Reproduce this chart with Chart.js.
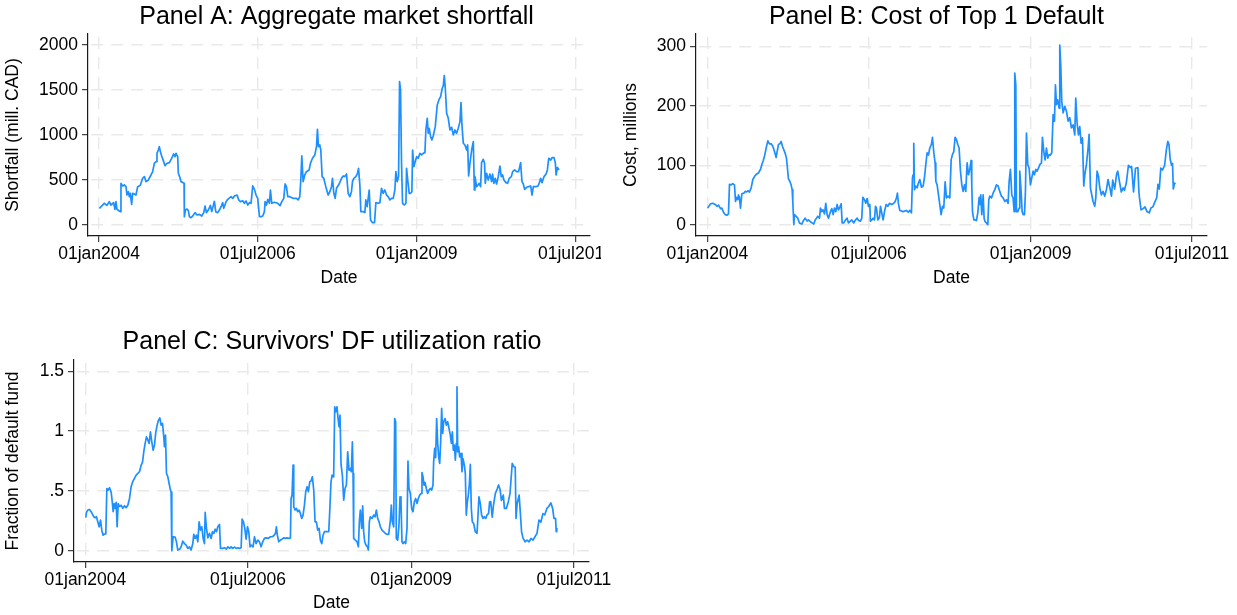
<!DOCTYPE html>
<html>
<head>
<meta charset="utf-8">
<title>Shortfall, top-1 default cost and default fund utilization</title>
<script src="https://cdn.jsdelivr.net/npm/chart.js@4/dist/chart.umd.min.js"></script>
<style>
  html, body { margin: 0; padding: 0; background: #ffffff; overflow: hidden; width: 1237px; height: 615px; }
  canvas { position: absolute; display: block; }
</style>
</head>
<body>
<canvas id="panelA" width="601" height="300" style="left:0px;top:0px;width:601px;height:300px"></canvas>
<canvas id="panelB" width="619" height="300" style="left:618px;top:0px;width:619px;height:300px"></canvas>
<canvas id="panelC" width="618" height="305" style="left:0px;top:310px;width:618px;height:305px"></canvas>
<script>
// ---- Date axis (decimal years) ----
const xTickYears  = [2004.0, 2006.496, 2009.0, 2011.496];
const xTickLabels = ['01jan2004', '01jul2006', '01jan2009', '01jul2011'];

// ---- Panel A: aggregate market shortfall (mill. CAD) ----
const shortfallDates = [
  2004.005, 2004.081, 2004.123, 2004.160, 2004.186, 2004.228, 2004.249, 2004.265, 2004.281, 2004.318,
  2004.334, 2004.344, 2004.370, 2004.397, 2004.423, 2004.439, 2004.460, 2004.475, 2004.491, 2004.512,
  2004.528, 2004.554, 2004.580, 2004.607, 2004.649, 2004.685, 2004.712, 2004.738, 2004.775, 2004.817,
  2004.843, 2004.869, 2004.896, 2004.911, 2004.932, 2004.948, 2004.964, 2004.985, 2005.016, 2005.037,
  2005.069, 2005.106, 2005.142, 2005.174, 2005.195, 2005.211, 2005.237, 2005.247, 2005.268, 2005.289,
  2005.321, 2005.337, 2005.342, 2005.358, 2005.384, 2005.405, 2005.421, 2005.447, 2005.473, 2005.510,
  2005.541, 2005.578, 2005.615, 2005.647, 2005.668, 2005.689, 2005.720, 2005.752, 2005.773, 2005.815,
  2005.836, 2005.867, 2005.894, 2005.920, 2005.946, 2005.962, 2005.999, 2006.025, 2006.077, 2006.104,
  2006.130, 2006.172, 2006.198, 2006.225, 2006.261, 2006.287, 2006.314, 2006.340, 2006.366, 2006.392,
  2006.418, 2006.445, 2006.471, 2006.497, 2006.524, 2006.550, 2006.576, 2006.602, 2006.613, 2006.634,
  2006.655, 2006.681, 2006.697, 2006.718, 2006.760, 2006.813, 2006.849, 2006.876, 2006.907, 2006.928,
  2006.949, 2006.970, 2007.001, 2007.054, 2007.107, 2007.133, 2007.159, 2007.175, 2007.191, 2007.212,
  2007.238, 2007.264, 2007.306, 2007.327, 2007.359, 2007.396, 2007.422, 2007.437, 2007.453, 2007.474,
  2007.490, 2007.511, 2007.537, 2007.569, 2007.606, 2007.632, 2007.658, 2007.674, 2007.695, 2007.716,
  2007.737, 2007.779, 2007.816, 2007.842, 2007.868, 2007.895, 2007.921, 2007.947, 2007.973, 2007.989,
  2008.010, 2008.042, 2008.068, 2008.084, 2008.105, 2008.120, 2008.157, 2008.183, 2008.199, 2008.220,
  2008.236, 2008.252, 2008.273, 2008.304, 2008.336, 2008.357, 2008.394, 2008.420, 2008.446, 2008.472,
  2008.498, 2008.525, 2008.551, 2008.577, 2008.604, 2008.630, 2008.656, 2008.672, 2008.693, 2008.714,
  2008.730, 2008.745, 2008.761, 2008.777, 2008.803, 2008.830, 2008.840, 2008.861, 2008.882, 2008.903,
  2008.924, 2008.935, 2008.956, 2008.977, 2008.998, 2009.024, 2009.050, 2009.076, 2009.102, 2009.129,
  2009.144, 2009.166, 2009.181, 2009.197, 2009.218, 2009.239, 2009.260, 2009.292, 2009.323, 2009.349,
  2009.376, 2009.402, 2009.418, 2009.434, 2009.450, 2009.471, 2009.497, 2009.523, 2009.550, 2009.576,
  2009.602, 2009.628, 2009.654, 2009.681, 2009.697, 2009.712, 2009.733, 2009.759, 2009.786, 2009.802,
  2009.817, 2009.838, 2009.865, 2009.891, 2009.907, 2009.917, 2009.943, 2009.985, 2010.006, 2010.021,
  2010.047, 2010.068, 2010.079, 2010.100, 2010.126, 2010.152, 2010.179, 2010.194, 2010.215, 2010.236,
  2010.257, 2010.284, 2010.310, 2010.331, 2010.352, 2010.373, 2010.405, 2010.431, 2010.457, 2010.489,
  2010.510, 2010.541, 2010.573, 2010.604, 2010.636, 2010.657, 2010.678, 2010.699, 2010.731, 2010.762,
  2010.794, 2010.815, 2010.836, 2010.878, 2010.910, 2010.931, 2010.952, 2010.973, 2011.004, 2011.036,
  2011.057, 2011.078, 2011.110, 2011.131, 2011.162, 2011.183, 2011.194, 2011.215, 2011.240
];
const shortfallValues = [
  182, 238, 215, 256, 219, 245, 171, 256, 171, 152,
  145, 460, 431, 442, 423, 330, 367, 312, 349, 226,
  349, 341, 330, 423, 438, 516, 535, 479, 497, 553,
  590, 683, 702, 794, 831, 869, 813, 765, 702, 657,
  683, 690, 739, 787, 757, 794, 757, 572, 535, 479,
  468, 460, 89, 163, 174, 156, 89, 78, 96, 134,
  108, 115, 96, 134, 208, 134, 163, 215, 145, 260,
  145, 134, 163, 200, 245, 182, 256, 282, 312, 293,
  319, 330, 275, 256, 267, 238, 264, 219, 245, 238,
  431, 393, 330, 293, 89, 89, 96, 145, 256, 219,
  282, 238, 386, 238, 249, 238, 212, 256, 293, 453,
  423, 312, 312, 293, 293, 275, 312, 497, 765, 479,
  553, 590, 609, 683, 739, 776, 869, 1062, 869, 887,
  831, 535, 516, 423, 330, 367, 423, 516, 349, 293,
  405, 453, 516, 542, 535, 564, 349, 312, 367, 479,
  516, 535, 572, 627, 442, 145, 145, 134, 275, 200,
  293, 386, 52, 22, 22, 245, 238, 245, 405, 349,
  386, 330, 312, 275, 293, 293, 386, 590, 479, 535,
  1592, 1500, 683, 238, 219, 238, 627, 479, 349, 349,
  367, 831, 646, 702, 757, 739, 794, 776, 794, 802,
  1054, 1184, 1017, 1073, 980, 943, 987, 1091, 1333, 1388,
  1425, 1518, 1544, 1659, 1518, 1240, 1184, 1054, 1084, 999,
  1054, 1017, 1073, 1147, 1359, 1110, 906, 887, 831, 887,
  542, 683, 831, 924, 386, 535, 423, 460, 423, 690,
  728, 683, 460, 572, 497, 564, 479, 564, 460, 516,
  453, 535, 653, 535, 553, 497, 468, 460, 516, 535,
  590, 609, 590, 590, 690, 479, 453, 393, 416, 423,
  431, 330, 423, 423, 431, 468, 516, 468, 535, 564,
  609, 739, 720, 746, 746, 683, 553, 638, 609
];
const shortfallTicks = [0, 500, 1000, 1500, 2000];
const shortfallTickLabels = ['0', '500', '1000', '1500', '2000'];

// ---- Panel B: cost of the top-1 default (millions) ----
const top1Dates = [
  2004.005, 2004.049, 2004.085, 2004.121, 2004.152, 2004.173, 2004.204, 2004.224, 2004.255, 2004.276,
  2004.307, 2004.327, 2004.343, 2004.369, 2004.394, 2004.420, 2004.436, 2004.451, 2004.472, 2004.482,
  2004.497, 2004.513, 2004.534, 2004.564, 2004.585, 2004.606, 2004.626, 2004.652, 2004.678, 2004.704,
  2004.729, 2004.760, 2004.791, 2004.822, 2004.843, 2004.863, 2004.884, 2004.910, 2004.936, 2004.961,
  2004.987, 2005.013, 2005.039, 2005.064, 2005.080, 2005.101, 2005.121, 2005.142, 2005.162, 2005.183,
  2005.204, 2005.224, 2005.235, 2005.255, 2005.276, 2005.296, 2005.312, 2005.322, 2005.338, 2005.348,
  2005.374, 2005.399, 2005.425, 2005.461, 2005.492, 2005.513, 2005.544, 2005.564, 2005.606, 2005.647,
  2005.668, 2005.688, 2005.709, 2005.735, 2005.750, 2005.771, 2005.791, 2005.812, 2005.832, 2005.853,
  2005.874, 2005.905, 2005.925, 2005.946, 2005.966, 2005.987, 2006.008, 2006.028, 2006.044, 2006.070,
  2006.085, 2006.111, 2006.131, 2006.162, 2006.183, 2006.214, 2006.235, 2006.265, 2006.286, 2006.317,
  2006.338, 2006.369, 2006.389, 2006.405, 2006.431, 2006.451, 2006.472, 2006.492, 2006.513, 2006.523,
  2006.544, 2006.564, 2006.585, 2006.601, 2006.616, 2006.637, 2006.662, 2006.678, 2006.698, 2006.719,
  2006.740, 2006.766, 2006.791, 2006.817, 2006.853, 2006.884, 2006.905, 2006.925, 2006.940, 2006.956,
  2006.977, 2007.028, 2007.080, 2007.106, 2007.131, 2007.157, 2007.173, 2007.183, 2007.193, 2007.204,
  2007.224, 2007.245, 2007.265, 2007.286, 2007.312, 2007.338, 2007.358, 2007.379, 2007.399, 2007.420,
  2007.441, 2007.466, 2007.482, 2007.503, 2007.523, 2007.534, 2007.554, 2007.575, 2007.595, 2007.616,
  2007.637, 2007.657, 2007.678, 2007.699, 2007.724, 2007.750, 2007.771, 2007.791, 2007.812, 2007.832,
  2007.853, 2007.874, 2007.894, 2007.915, 2007.936, 2007.956, 2007.977, 2007.997, 2008.018, 2008.039,
  2008.059, 2008.080, 2008.090, 2008.101, 2008.122, 2008.142, 2008.162, 2008.183, 2008.204, 2008.214,
  2008.229, 2008.245, 2008.266, 2008.281, 2008.296, 2008.317, 2008.338, 2008.353, 2008.369, 2008.395,
  2008.420, 2008.446, 2008.472, 2008.497, 2008.523, 2008.549, 2008.575, 2008.601, 2008.626, 2008.652,
  2008.668, 2008.688, 2008.709, 2008.729, 2008.745, 2008.755, 2008.771, 2008.781, 2008.802, 2008.822,
  2008.832, 2008.853, 2008.869, 2008.884, 2008.905, 2008.920, 2008.936, 2008.956, 2008.977, 2008.997,
  2009.018, 2009.039, 2009.059, 2009.080, 2009.100, 2009.121, 2009.142, 2009.168, 2009.183, 2009.204,
  2009.224, 2009.245, 2009.265, 2009.286, 2009.307, 2009.327, 2009.348, 2009.369, 2009.384, 2009.400,
  2009.420, 2009.441, 2009.451, 2009.466, 2009.482, 2009.503, 2009.528, 2009.554, 2009.580, 2009.606,
  2009.631, 2009.657, 2009.683, 2009.698, 2009.719, 2009.740, 2009.760, 2009.781, 2009.802, 2009.822,
  2009.838, 2009.863, 2009.889, 2009.905, 2009.925, 2009.946, 2009.966, 2009.992, 2010.008, 2010.028,
  2010.049, 2010.070, 2010.095, 2010.121, 2010.147, 2010.173, 2010.198, 2010.214, 2010.230, 2010.250,
  2010.270, 2010.300, 2010.330, 2010.348, 2010.370, 2010.403, 2010.430, 2010.451, 2010.480, 2010.513,
  2010.540, 2010.562, 2010.592, 2010.622, 2010.659, 2010.675, 2010.684, 2010.708, 2010.740, 2010.769,
  2010.800, 2010.836, 2010.860, 2010.891, 2010.921, 2010.950, 2010.970, 2010.990, 2011.013, 2011.040,
  2011.073, 2011.098, 2011.122, 2011.140, 2011.159, 2011.180, 2011.195, 2011.207, 2011.225, 2011.240
];
const top1Values = [
  28, 35, 36, 34, 31, 33, 27, 28, 20, 17,
  16, 18, 68, 67, 69, 67, 39, 46, 42, 50,
  46, 28, 52, 53, 56, 55, 57, 55, 62, 76,
  81, 85, 87, 93, 101, 107, 115, 129, 141, 136,
  136, 132, 123, 113, 123, 135, 136, 140, 132, 126,
  120, 112, 100, 77, 73, 67, 59, 39, 0, 17,
  14, 11, 3, 1, 8, 11, 6, 8, 4, 1,
  8, 11, 14, 11, 28, 22, 25, 18, 36, 17,
  11, 22, 27, 17, 28, 22, 34, 25, 28, 35,
  3, 3, 7, 11, 3, 6, 8, 3, 7, 11,
  7, 6, 11, 46, 42, 36, 44, 31, 34, 6,
  8, 11, 8, 31, 28, 8, 12, 31, 20, 8,
  22, 34, 31, 36, 34, 36, 39, 45, 53, 35,
  24, 22, 24, 21, 24, 20, 79, 84, 137, 59,
  65, 62, 70, 76, 63, 65, 79, 101, 121, 117,
  129, 135, 147, 121, 104, 73, 67, 50, 34, 17,
  31, 28, 72, 45, 48, 45, 109, 118, 123, 147,
  143, 135, 129, 90, 67, 56, 67, 56, 104, 84,
  93, 108, 67, 22, 8, 8, 7, 20, 46, 34,
  50, 17, 50, 11, 5, 3, 0, 42, 48, 45,
  53, 59, 67, 65, 56, 48, 45, 39, 42, 36,
  73, 93, 50, 45, 22, 255, 235, 22, 22, 28,
  90, 56, 22, 17, 17, 56, 154, 101, 95, 67,
  79, 90, 84, 93, 90, 95, 101, 104, 147, 123,
  109, 129, 112, 118, 117, 121, 185, 174, 235, 202,
  210, 196, 302, 269, 207, 188, 199, 191, 174, 180,
  163, 168, 151, 213, 171, 151, 165, 137, 146, 65,
  84, 101, 129, 152, 62, 50, 39, 31, 45, 90,
  82, 62, 50, 56, 48, 59, 76, 67, 60, 48,
  75, 60, 85, 90, 75, 55, 62, 58, 70, 100,
  96, 98, 55, 95, 96, 55, 45, 25, 27, 30,
  22, 20, 28, 30, 38, 45, 68, 60, 95, 92,
  100, 125, 140, 135, 110, 100, 103, 60, 70, 68
];
const top1Ticks = [0, 100, 200, 300];
const top1TickLabels = ['0', '100', '200', '300'];

// ---- Panel C: survivors' default fund utilization ratio ----
const utilDates = [
  2004.005, 2004.017, 2004.037, 2004.063, 2004.088, 2004.114, 2004.129, 2004.150, 2004.170, 2004.191,
  2004.211, 2004.232, 2004.252, 2004.272, 2004.293, 2004.313, 2004.329, 2004.349, 2004.370, 2004.395,
  2004.411, 2004.426, 2004.441, 2004.457, 2004.472, 2004.487, 2004.503, 2004.523, 2004.549, 2004.574,
  2004.600, 2004.625, 2004.651, 2004.677, 2004.702, 2004.728, 2004.753, 2004.779, 2004.805, 2004.830,
  2004.856, 2004.876, 2004.897, 2004.917, 2004.937, 2004.958, 2004.978, 2004.998, 2005.019, 2005.039,
  2005.060, 2005.080, 2005.101, 2005.121, 2005.142, 2005.162, 2005.183, 2005.203, 2005.213, 2005.229,
  2005.244, 2005.265, 2005.285, 2005.305, 2005.315, 2005.326, 2005.346, 2005.377, 2005.397, 2005.418,
  2005.448, 2005.469, 2005.494, 2005.520, 2005.546, 2005.571, 2005.597, 2005.622, 2005.648, 2005.663,
  2005.684, 2005.704, 2005.725, 2005.745, 2005.766, 2005.786, 2005.807, 2005.827, 2005.838, 2005.858,
  2005.879, 2005.904, 2005.930, 2005.950, 2005.971, 2005.991, 2006.011, 2006.032, 2006.058, 2006.073,
  2006.109, 2006.134, 2006.165, 2006.186, 2006.216, 2006.237, 2006.262, 2006.288, 2006.313, 2006.339,
  2006.364, 2006.390, 2006.405, 2006.425, 2006.446, 2006.466, 2006.487, 2006.507, 2006.527, 2006.548,
  2006.573, 2006.594, 2006.619, 2006.645, 2006.670, 2006.696, 2006.721, 2006.747, 2006.773, 2006.808,
  2006.839, 2006.865, 2006.890, 2006.916, 2006.931, 2006.946, 2006.967, 2006.992, 2007.018, 2007.043,
  2007.069, 2007.095, 2007.120, 2007.146, 2007.156, 2007.171, 2007.187, 2007.197, 2007.217, 2007.238,
  2007.258, 2007.279, 2007.299, 2007.320, 2007.340, 2007.361, 2007.381, 2007.402, 2007.422, 2007.443,
  2007.463, 2007.483, 2007.504, 2007.524, 2007.545, 2007.565, 2007.586, 2007.606, 2007.627, 2007.647,
  2007.667, 2007.708, 2007.734, 2007.749, 2007.769, 2007.785, 2007.800, 2007.810, 2007.826, 2007.841,
  2007.861, 2007.877, 2007.892, 2007.907, 2007.923, 2007.943, 2007.964, 2007.984, 2008.005, 2008.025,
  2008.045, 2008.066, 2008.081, 2008.097, 2008.107, 2008.117, 2008.143, 2008.168, 2008.189, 2008.204,
  2008.219, 2008.240, 2008.255, 2008.270, 2008.286, 2008.306, 2008.327, 2008.342, 2008.357, 2008.373,
  2008.399, 2008.424, 2008.445, 2008.465, 2008.485, 2008.506, 2008.526, 2008.552, 2008.577, 2008.603,
  2008.628, 2008.654, 2008.679, 2008.695, 2008.710, 2008.731, 2008.746, 2008.761, 2008.771, 2008.792,
  2008.812, 2008.828, 2008.843, 2008.858, 2008.874, 2008.894, 2008.915, 2008.935, 2008.950, 2008.966,
  2008.986, 2009.007, 2009.027, 2009.048, 2009.068, 2009.089, 2009.109, 2009.130, 2009.150, 2009.165,
  2009.181, 2009.196, 2009.211, 2009.232, 2009.252, 2009.273, 2009.293, 2009.314, 2009.334, 2009.344,
  2009.360, 2009.375, 2009.390, 2009.406, 2009.421, 2009.437, 2009.452, 2009.467, 2009.483, 2009.498,
  2009.519, 2009.539, 2009.559, 2009.580, 2009.600, 2009.616, 2009.631, 2009.646, 2009.662, 2009.677,
  2009.692, 2009.702, 2009.713, 2009.728, 2009.743, 2009.764, 2009.779, 2009.794, 2009.815, 2009.830,
  2009.845, 2009.861, 2009.876, 2009.891, 2009.907, 2009.922, 2009.937, 2009.958, 2009.983, 2010.009,
  2010.024, 2010.039, 2010.060, 2010.080, 2010.101, 2010.121, 2010.142, 2010.162, 2010.187, 2010.203,
  2010.220, 2010.243, 2010.262, 2010.291, 2010.322, 2010.340, 2010.364, 2010.383, 2010.413, 2010.430,
  2010.460, 2010.490, 2010.516, 2010.535, 2010.550, 2010.577, 2010.596, 2010.608, 2010.625, 2010.656,
  2010.675, 2010.693, 2010.717, 2010.747, 2010.777, 2010.808, 2010.838, 2010.868, 2010.899, 2010.930,
  2010.960, 2010.990, 2011.021, 2011.050, 2011.081, 2011.110, 2011.142, 2011.170, 2011.190, 2011.215,
  2011.225, 2011.233, 2011.240
];
const utilValues = [
  0.276, 0.32, 0.34, 0.345, 0.326, 0.30, 0.284, 0.276, 0.284, 0.24,
  0.20, 0.256, 0.17, 0.13, 0.14, 0.14, 0.52, 0.507, 0.526, 0.49,
  0.415, 0.326, 0.395, 0.354, 0.404, 0.20, 0.395, 0.37, 0.38, 0.354,
  0.376, 0.36, 0.38, 0.437, 0.535, 0.58, 0.605, 0.632, 0.646, 0.66,
  0.716, 0.738, 0.832, 0.897, 0.952, 0.925, 0.897, 0.994, 0.91, 0.84,
  0.883, 0.989, 1.05, 1.09, 1.11, 1.05, 1.064, 0.952, 0.869, 0.966,
  0.646, 0.618, 0.562, 0.507, 0.49, 0.0, 0.117, 0.114, 0.075, 0.006,
  0.014, 0.033, 0.08, 0.06, 0.047, 0.02, 0.033, 0.006, 0.06, 0.137,
  0.103, 0.13, 0.075, 0.242, 0.173, 0.20, 0.103, 0.06, 0.32, 0.187,
  0.108, 0.145, 0.103, 0.159, 0.145, 0.18, 0.159, 0.20, 0.22, 0.02,
  0.02, 0.025, 0.014, 0.033, 0.02, 0.033, 0.02, 0.03, 0.02, 0.025,
  0.02, 0.025, 0.265, 0.242, 0.187, 0.097, 0.20, 0.159, 0.033, 0.047,
  0.033, 0.117, 0.06, 0.089, 0.075, 0.033, 0.075, 0.103, 0.108, 0.103,
  0.117, 0.117, 0.125, 0.145, 0.20, 0.13, 0.075, 0.089, 0.097, 0.108,
  0.103, 0.108, 0.103, 0.108, 0.437, 0.465, 0.716, 0.368, 0.34, 0.354,
  0.326, 0.34, 0.312, 0.27, 0.298, 0.381, 0.493, 0.535, 0.493, 0.576,
  0.582, 0.618, 0.507, 0.242, 0.242, 0.173, 0.187, 0.089, 0.06, 0.13,
  0.159, 0.159, 0.159, 0.326, 0.576, 0.632, 0.618, 0.638, 1.203, 1.161,
  1.203, 1.105, 1.036, 1.133, 0.721, 0.632, 0.423, 0.52, 0.549, 0.827,
  0.674, 0.688, 0.66, 0.911, 0.646, 0.103, 0.089, 0.075, 0.033, 0.242,
  0.34, 0.187, 0.376, 0.159, 0.075, 0.047, 0.033, 0.006, 0.242, 0.284,
  0.27, 0.298, 0.284, 0.34, 0.27, 0.242, 0.20, 0.173, 0.159, 0.145,
  0.137, 0.137, 0.248, 0.382, 0.242, 0.20, 1.105, 1.078, 0.103, 0.089,
  0.215, 0.451, 0.409, 0.075, 0.06, 0.075, 0.06, 0.187, 0.749, 0.52,
  0.479, 0.354, 0.326, 0.409, 0.437, 0.395, 0.437, 0.465, 0.479, 0.654,
  0.618, 0.549, 0.571, 0.52, 0.479, 0.507, 0.52, 0.507, 0.549, 0.743,
  0.855, 0.777, 1.105, 0.897, 0.785, 0.73, 0.911, 1.189, 0.98, 1.078,
  1.105, 1.05, 1.078, 1.022, 0.966, 0.897, 0.994, 0.841, 0.883, 0.757,
  0.897, 1.37, 0.827, 0.869, 0.785, 0.813, 0.66, 0.771, 0.716, 0.646,
  0.298, 0.409, 0.465, 0.549, 0.721, 0.354, 0.242, 0.228, 0.159, 0.145,
  0.284, 0.451, 0.395, 0.298, 0.27, 0.284, 0.27, 0.298, 0.312, 0.409,
  0.41, 0.28, 0.38, 0.48, 0.52, 0.55, 0.51, 0.42, 0.465, 0.354,
  0.354, 0.41, 0.48, 0.62, 0.73, 0.70, 0.70, 0.27, 0.395, 0.465,
  0.31, 0.159, 0.103, 0.075, 0.089, 0.075, 0.103, 0.089, 0.117, 0.145,
  0.256, 0.24, 0.31, 0.30, 0.354, 0.37, 0.40, 0.354, 0.27, 0.27,
  0.159, 0.187, 0.178
];
const utilTicks = [0, 0.5, 1, 1.5];
const utilTickLabels = ['0', '.5', '1', '1.5'];

// ---- Styling ----
const FONT = "'Liberation Sans', Arial, Helvetica, sans-serif";
const LINE_COLOR = '#1e8fff';
const GRID_COLOR = '#e9e9e9';
const AXIS_COLOR = '#1a1a1a';
const TEXT_COLOR = '#000000';
const LABEL_SIZE = 17.5;
const X_MIN = 2003.825, X_MAX = 2011.728;

Chart.defaults.font.family = FONT;
Chart.defaults.color = TEXT_COLOR;

// Panel heading drawn above each plot, centred at a fixed x
const panelTitle = {
  id: 'panelTitle',
  afterDraw(chart, args, opts) {
    const ctx = chart.ctx;
    ctx.save();
    ctx.font = opts.size + 'px ' + FONT;
    ctx.fillStyle = TEXT_COLOR;
    ctx.textAlign = 'center';
    ctx.textBaseline = 'alphabetic';
    ctx.fillText(opts.text, opts.x, opts.y);
    ctx.restore();
  }
};

function buildPanel(id, p) {
  const points = p.dates.map((d, i) => ({ x: d, y: p.values[i] }));
  const gridOpts = { color: GRID_COLOR, lineWidth: 1.4, drawTicks: true, tickLength: 6, tickColor: AXIS_COLOR, tickWidth: 1 };
  const borderOpts = { display: true, color: AXIS_COLOR, width: 1.2, dash: [12, 8], dashOffset: 17 };
  return new Chart(document.getElementById(id), {
    type: 'line',
    data: {
      datasets: [{
        data: points,
        borderColor: LINE_COLOR,
        borderWidth: 1.7,
        borderJoinStyle: 'round',
        pointRadius: 0,
        tension: 0,
        fill: false
      }]
    },
    options: {
      responsive: false,
      animation: false,
      devicePixelRatio: 1,
      events: [],
      layout: { padding: { top: p.padTop, left: 0, right: p.padRight, bottom: p.padBottom } },
      plugins: {
        legend: { display: false },
        tooltip: { enabled: false },
        panelTitle: { text: p.title, x: p.titleX, y: p.titleY, size: 25 }
      },
      scales: {
        x: {
          type: 'linear',
          position: 'bottom',
          min: X_MIN,
          max: X_MAX,
          afterBuildTicks: s => { s.ticks = xTickYears.map(v => ({ value: v })); },
          afterFit: s => { s.height = p.xAxisHeight; s.paddingLeft = 0; s.paddingRight = 0; },
          ticks: {
            autoSkip: false, maxRotation: 0, minRotation: 0, padding: 2,
            font: { size: LABEL_SIZE }, color: TEXT_COLOR,
            callback: (v, i) => xTickLabels[i]
          },
          grid: gridOpts,
          border: borderOpts,
          title: { display: true, text: 'Date', font: { size: LABEL_SIZE }, color: TEXT_COLOR, padding: 0 }
        },
        y: {
          type: 'linear',
          position: 'left',
          min: p.yMin,
          max: p.yMax,
          afterBuildTicks: s => { s.ticks = p.yTicks.map(v => ({ value: v })); },
          afterFit: s => { s.width = p.yAxisWidth; s.paddingTop = 0; s.paddingBottom = 0; },
          ticks: {
            autoSkip: false, padding: 4,
            font: { size: LABEL_SIZE }, color: TEXT_COLOR,
            callback: (v, i) => p.yTickLabels[i]
          },
          grid: gridOpts,
          border: borderOpts,
          title: { display: true, text: p.yTitle, font: { size: LABEL_SIZE }, color: TEXT_COLOR, padding: { top: 3, bottom: 0 } }
        }
      }
    },
    plugins: [panelTitle]
  });
}

buildPanel('panelA', {
  dates: shortfallDates, values: shortfallValues,
  yTicks: shortfallTicks, yTickLabels: shortfallTickLabels, yMin: -126, yMax: 2122,
  yTitle: 'Shortfall (mill. CAD)', title: 'Panel A: Aggregate market shortfall',
  titleX: 336.6, titleY: 24,
  padTop: 34, padRight: 11, padBottom: 11, yAxisWidth: 88, xAxisHeight: 53
});

buildPanel('panelB', {
  dates: top1Dates, values: top1Values,
  yTicks: top1Ticks, yTickLabels: top1TickLabels, yMin: -19, yMax: 320.7,
  yTitle: 'Cost, millions', title: 'Panel B: Cost of Top 1 Default',
  titleX: 318.4, titleY: 24,
  padTop: 34, padRight: 30, padBottom: 11, yAxisWidth: 78, xAxisHeight: 53
});

buildPanel('panelC', {
  dates: utilDates, values: utilValues,
  yTicks: utilTicks, yTickLabels: utilTickLabels, yMin: -0.094, yMax: 1.594,
  yTitle: 'Fraction of default fund', title: "Panel C: Survivors' DF utilization ratio",
  titleX: 332, titleY: 39.3,
  padTop: 50, padRight: 29, padBottom: 1, yAxisWidth: 74, xAxisHeight: 52
});
</script>
</body>
</html>
